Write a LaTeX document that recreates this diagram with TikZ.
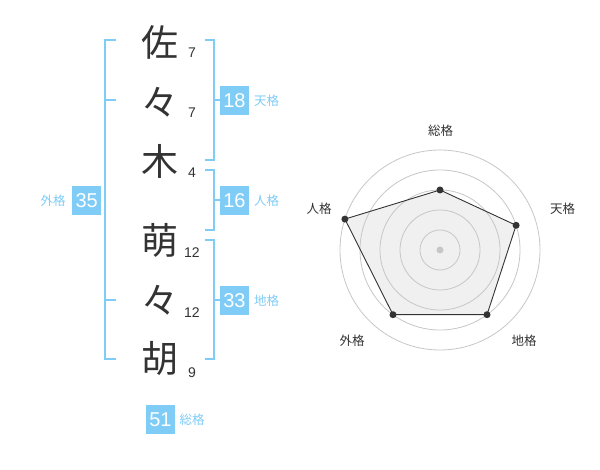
\documentclass[tikz,border=0pt]{standalone}
\usepackage{fontspec}
\setmainfont{Liberation Sans}
\newfontfamily\jp{Noto Sans CJK JP}
\definecolor{sky}{HTML}{7FCCF7}
\definecolor{ink}{HTML}{333333}
\begin{document}
\begin{tikzpicture}[x=1pt,y=-1pt,
 kanji/.style={font=\jp\fontsize{37}{37}\selectfont, text=ink, inner sep=0},
 strokes/.style={font=\fontsize{14}{14}\selectfont, text=ink, inner sep=0},
 scorebox/.style={fill=sky, text=white, minimum width=29pt, minimum height=29pt, inner sep=0, font=\fontsize{20}{20}\selectfont},
 kaku/.style={font=\jp\fontsize{12.5}{12.5}\selectfont, text=sky, inner sep=0},
 bracket/.style={draw=sky, line width=2pt},
 ring/.style={draw=black!22, line width=0.8pt},
 axislabel/.style={font=\jp\fontsize{12.5}{12.5}\selectfont, text=ink, inner sep=0},
 dot/.style={circle, fill=ink, inner sep=0, minimum size=7pt}
]
\useasboundingbox[fill=white] (0,0) rectangle (600,470);

% name characters
\node[kanji] (c1) at (160,42) {佐};
\node[kanji] (c2) at (160,102) {々};
\node[kanji] (c3) at (160,161) {木};
\node[kanji] (c4) at (160,240) {萌};
\node[kanji] (c5) at (160,300) {々};
\node[kanji] (c6) at (160,358) {胡};

\node[strokes] (s1) at (192,52.5) {7};
\node[strokes] (s2) at (192,112.5) {7};
\node[strokes] (s3) at (192,172.5) {4};
\node[strokes] (s4) at (192,252.5) {12};
\node[strokes] (s5) at (192,312.5) {12};
\node[strokes] (s6) at (192,372.5) {9};

% brackets
\draw[bracket] (116,40) -- (105,40) -- (105,359) -- (116,359);
\draw[bracket] (105,100) -- (116,100);
\draw[bracket] (105,300) -- (116,300);
\draw[bracket] (205,40) -- (214,40) -- (214,160) -- (205,160);
\draw[bracket] (214,100) -- (220,100);
\draw[bracket] (205,170) -- (214,170) -- (214,230) -- (205,230);
\draw[bracket] (214,200) -- (220,200);
\draw[bracket] (205,240) -- (214,240) -- (214,359) -- (205,359);
\draw[bracket] (214,300) -- (220,300);

% score boxes
\node[scorebox] (ten) at (234.5,100.5) {18};
\node[kaku] (tenl) at (266.5,101) {天格};
\node[scorebox] (jin) at (234.5,200.5) {16};
\node[kaku] (jinl) at (266.5,201) {人格};
\node[scorebox] (chi) at (234.5,300.5) {33};
\node[kaku] (chil) at (266.5,301) {地格};
\node[scorebox] (gai) at (86.7,200.5) {35};
\node[kaku] (gail) at (53,201) {外格};
\node[scorebox] (sou) at (160.5,419.5) {51};
\node[kaku] (soul) at (192,420) {総格};

% radar chart
\coordinate (ctr) at (440,250);
\coordinate (pS) at (440,190);
\coordinate (pT) at (516.1,225.3);
\coordinate (pC) at (487.0,314.7);
\coordinate (pG) at (393.0,314.7);
\coordinate (pJ) at (344.9,219.1);
\fill[black!6] (pS) -- (pT) -- (pC) -- (pG) -- (pJ) -- cycle;
\foreach \r in {20,40,60,80,100} \draw[ring] (ctr) circle[radius=\r];
\fill[black!22] (ctr) circle[radius=3.5];
\draw[ink, line width=0.9pt] (pS) -- (pT) -- (pC) -- (pG) -- (pJ) -- cycle;
\foreach \p in {pS,pT,pC,pG,pJ} \node[dot] at (\p) {};

\node[axislabel] (aS) at (440.5,131) {総格};
\node[axislabel] (aT) at (562.5,209) {天格};
\node[axislabel] (aJ) at (319,209) {人格};
\node[axislabel] (aC) at (524,341) {地格};
\node[axislabel] (aG) at (352,341) {外格};
\end{tikzpicture}
\end{document}
